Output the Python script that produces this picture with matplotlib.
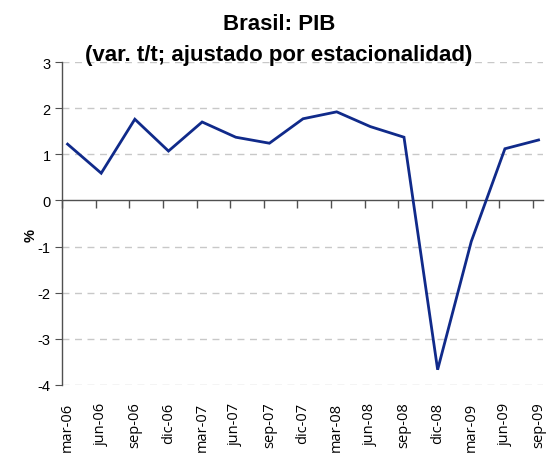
import matplotlib
matplotlib.use("Agg")
import matplotlib.pyplot as plt
import numpy as np

# Brasil: PIB, var. t/t (%)
quarters = ["mar-06", "jun-06", "sep-06", "dic-06", "mar-07", "jun-07", "sep-07",
            "dic-07", "mar-08", "jun-08", "sep-08", "dic-08", "mar-09", "jun-09", "sep-09"]
pib = [1.22, 0.59, 1.76, 1.07, 1.70, 1.37, 1.24,
       1.77, 1.92, 1.60, 1.37, -3.67, -0.89, 1.12, 1.31]
y_ticks = [3, 2, 1, 0, -1, -2, -3, -4]

fig = plt.figure(figsize=(5.58, 4.6), dpi=100)
ax = fig.add_axes([0.111, 0.161, 0.862, 0.702])

x = np.arange(len(quarters))
ax.plot(x, pib, color="#102a8a", lw=2.0, solid_joinstyle="miter", zorder=3)

ax.set_ylim(-4, 3)
ax.set_xlim(-0.167, 14.13)

# grid
for v in y_ticks:
    if v != 0:
        ax.axhline(v, color="#c8c8c8", lw=1, dashes=(5, 4), zorder=1)

for s in ["top", "right", "bottom"]:
    ax.spines[s].set_visible(False)
ax.spines["left"].set_color("#505050")
ax.spines["left"].set_linewidth(1)

ax.set_yticks(y_ticks)
ax.set_yticklabels([str(v) for v in y_ticks], family="Liberation Sans", fontsize=10.5)
ax.tick_params(axis="y", direction="out", length=5, color="#505050", pad=3)

ax.set_xticks(x)
ax.set_xticklabels(quarters, rotation=90, family="Open Sans", fontsize=10.5)
ax.tick_params(axis="x", length=0, pad=12)

# zero axis with boundary ticks
zero = ax.secondary_xaxis(4 / 7)
zero.set_alignment("bottom")
zero.set_xticks(x - 0.167)
zero.set_xticklabels([])
zero.tick_params(direction="out", length=6, color="#505050", width=1)
zero.spines["bottom"].set_color("#505050")
zero.spines["bottom"].set_linewidth(1)

fig.text(0.054, 0.487, "%", rotation=90, ha="center", va="center",
         family="Liberation Sans", fontweight="bold", fontsize=10.5)

fig.text(0.5, 0.935, "Brasil: PIB", ha="center", va="baseline",
         family="Liberation Sans", fontweight="bold", fontsize=16)
fig.text(0.5, 0.867, "(var. t/t; ajustado por estacionalidad)", ha="center", va="baseline",
         family="Liberation Sans", fontweight="bold", fontsize=16)

fig.savefig("out.png", dpi=100)
